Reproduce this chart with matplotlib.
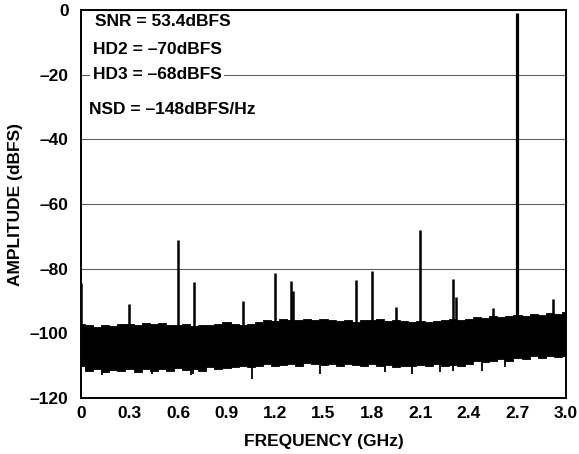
import numpy as np
import matplotlib.pyplot as plt

plt.rcParams['font.family'] = ['Liberation Sans', 'DejaVu Sans']
plt.rcParams['font.weight'] = 'bold'

# noise floor envelope, read every 0.05 GHz
floor_freq = np.arange(0, 3.0001, 0.05)
floor_top = [-97, -97.5, -98, -97.5, -97.8, -97.2, -97, -97.3, -96.8, -97, -96.8,
             -97.5, -97.3, -97, -97.8, -97.3, -97.5, -97.2, -96.5, -97.2, -97.5,
             -97, -96.5, -96, -96.2, -95.5, -96, -95.8, -95.5, -95.8, -95.5,
             -96, -96.3, -96, -96.5, -95.8, -96, -95.5, -96.3, -96, -96.2,
             -96.5, -96.3, -96.5, -96.2, -96, -95.5, -95.8, -95.5, -95, -95.2,
             -94.5, -95, -94.5, -94.2, -94.5, -94, -94.3, -93.8, -94, -93.5]
floor_bot = [-110, -111.5, -111, -112, -111.2, -111.5, -111, -111.8, -111, -111.5, -111,
             -111.5, -110.8, -111.2, -111, -111.5, -110.5, -111, -110.8, -110.5, -110.2,
             -110.5, -110, -109.5, -110, -109.8, -109.5, -110, -109.3, -109.5, -109.8,
             -109.5, -110, -109.5, -109.8, -110, -109.5, -110, -109.8, -110.3, -110,
             -110.2, -109.8, -110, -109.5, -110, -109.8, -110, -109.5, -108.5, -109,
             -108.5, -108, -108.5, -107.5, -107.8, -107, -107.5, -107, -107.3, -107]

# isolated noise dips below the floor
dip_freq = [0.13, 0.44, 0.68, 0.69, 1.06, 1.48, 1.88, 2.05, 2.22, 2.30, 2.48, 2.62]
dip_level = [-113, -112.5, -113, -112.5, -114, -112.5, -112, -112.5, -112, -111.5, -111.5, -110.5]

# spurs and fundamental
spur_freq = [0.003, 0.30, 0.60, 0.70, 1.00, 1.20, 1.30, 1.31, 1.70, 1.80, 1.95, 2.10, 2.30, 2.32, 2.55, 2.92]
spur_level = [-84.5, -90.8, -71.1, -84.0, -90.1, -81.3, -83.7, -86.9, -83.4, -80.7, -91.7, -68.0, -83.2, -88.7, -92.2, -89.4]
tone_freq = 2.70
tone_level = -0.8

xticks = [0, 0.3, 0.6, 0.9, 1.2, 1.5, 1.8, 2.1, 2.4, 2.7, 3.0]
xticklabels = ['0', '0.3', '0.6', '0.9', '1.2', '1.5', '1.8', '2.1', '2.4', '2.7', '3.0']
yticks = [0, -20, -40, -60, -80, -100, -120]
yticklabels = ['0', '\u201320', '\u201340', '\u201360', '\u201380', '\u2013100', '\u2013120']

notes = ['SNR = 53.4dBFS', 'HD2 = \u201370dBFS', 'HD3 = \u201368dBFS', 'NSD = \u2013148dBFS/Hz']
note_x = [0.087, 0.074, 0.074, 0.049]
note_y = [-3.7, -12.1, -20.1, -30.9]

fig = plt.figure(figsize=(5.79, 4.54), dpi=100)
ax = fig.add_axes([0.1399, 0.1233, 0.8376, 0.8547])

ax.fill_between(floor_freq, floor_bot, floor_top, step='mid', color='black', lw=0.6)
ax.vlines(dip_freq, -104, dip_level, color='black', lw=1.3)
ax.vlines(spur_freq, -100, spur_level, color='black', lw=1.8)
ax.vlines([tone_freq], -100, [tone_level], color='black', lw=2.3)

ax.set_xlim(0, 3.0)
ax.set_ylim(-120, 0)
ax.set_xticks(xticks)
ax.set_xticklabels(xticklabels)
ax.set_yticks(yticks)
ax.set_yticklabels(yticklabels)
ax.tick_params(length=0, labelsize=12.5)
ax.tick_params(axis='y', pad=9)
ax.tick_params(axis='x', pad=6)
ax.yaxis.grid(True, color='#606060', lw=0.8)
ax.set_axisbelow(True)
for s in ax.spines.values():
    s.set_linewidth(1.4)

ax.set_xlabel('FREQUENCY (GHz)', fontsize=12.5, fontweight='bold', labelpad=9)
ax.set_ylabel('AMPLITUDE (dBFS)', fontsize=12.5, fontweight='bold', labelpad=5)

for t, x, y in zip(notes, note_x, note_y):
    ax.text(x, y, t, fontsize=12.5, fontweight='bold', va='center', ha='left',
            bbox=dict(facecolor='white', edgecolor='none', pad=2))

fig.savefig('out.png', dpi=100)
